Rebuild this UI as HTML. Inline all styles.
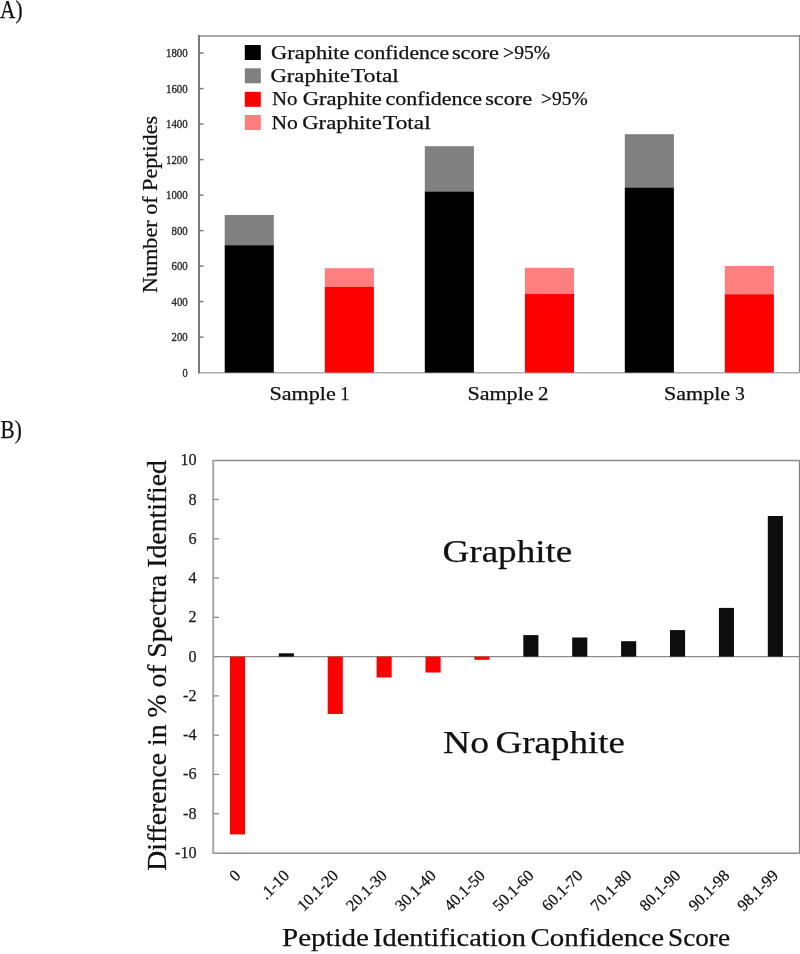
<!DOCTYPE html>
<html><head><meta charset="utf-8"><style>
html,body{margin:0;padding:0;background:#fff;}
svg{display:block;will-change:transform;}
text{font-family:"Liberation Serif",serif;fill:#111;white-space:pre;stroke:#111;stroke-width:0.25px;}
.ta{font-size:11.8px;fill:#2a2a2a;stroke:#2a2a2a;stroke-width:0.35px;}
.tb{font-size:17.2px;fill:#1a1a1a;stroke:#1a1a1a;stroke-width:0.25px;}
.tx{font-size:16.3px;fill:#111;}
.leg{font-size:19px;fill:#111;}
</style></head><body>
<svg width="800" height="954" viewBox="0 0 800 954">
<rect width="800" height="954" fill="#fff"/>
<text x="0" y="18.4" style="font-size:25.5px" textLength="22.5" lengthAdjust="spacingAndGlyphs">A)</text>
<text x="0.5" y="438.3" style="font-size:25.5px" textLength="21.3" lengthAdjust="spacingAndGlyphs">B)</text>
<line x1="199" y1="36" x2="799.5" y2="36" stroke="#a8a8a8" stroke-width="2"/>
<line x1="799.5" y1="35" x2="799.5" y2="373" stroke="#888" stroke-width="1.2"/>
<line x1="199" y1="372.8" x2="799.5" y2="372.8" stroke="#b0b0b0" stroke-width="1.5"/>
<rect x="224.7" y="215.0" width="49.1" height="30.2" fill="#808080"/><rect x="224.7" y="245.2" width="49.1" height="127.4" fill="#000000"/><rect x="324.8" y="268.2" width="49.1" height="18.6" fill="#ff7f7f"/><rect x="324.8" y="286.8" width="49.1" height="85.8" fill="#ff0000"/><rect x="424.8" y="146.2" width="49.1" height="45.3" fill="#808080"/><rect x="424.8" y="191.5" width="49.1" height="181.1" fill="#000000"/><rect x="524.9" y="267.8" width="49.1" height="26.0" fill="#ff7f7f"/><rect x="524.9" y="293.8" width="49.1" height="78.8" fill="#ff0000"/><rect x="624.8" y="134.2" width="49.1" height="53.3" fill="#808080"/><rect x="624.8" y="187.5" width="49.1" height="185.1" fill="#000000"/><rect x="724.8" y="266.0" width="49.1" height="28.2" fill="#ff7f7f"/><rect x="724.8" y="294.2" width="49.1" height="78.4" fill="#ff0000"/>
<line x1="199" y1="35" x2="199" y2="373.5" stroke="#7a7a7a" stroke-width="2"/>
<text x="182.5" y="376.6" class="ta" textLength="5.2" lengthAdjust="spacingAndGlyphs">0</text><line x1="199" y1="337.1" x2="203.5" y2="337.1" stroke="#7a7a7a" stroke-width="1.5"/><text x="171.5" y="341.1" class="ta" textLength="16.2" lengthAdjust="spacingAndGlyphs">200</text><line x1="199" y1="301.6" x2="203.5" y2="301.6" stroke="#7a7a7a" stroke-width="1.5"/><text x="171.5" y="305.6" class="ta" textLength="16.2" lengthAdjust="spacingAndGlyphs">400</text><line x1="199" y1="266.1" x2="203.5" y2="266.1" stroke="#7a7a7a" stroke-width="1.5"/><text x="171.5" y="270.1" class="ta" textLength="16.2" lengthAdjust="spacingAndGlyphs">600</text><line x1="199" y1="230.6" x2="203.5" y2="230.6" stroke="#7a7a7a" stroke-width="1.5"/><text x="171.5" y="234.6" class="ta" textLength="16.2" lengthAdjust="spacingAndGlyphs">800</text><line x1="199" y1="195.1" x2="203.5" y2="195.1" stroke="#7a7a7a" stroke-width="1.5"/><text x="166.0" y="199.1" class="ta" textLength="21.7" lengthAdjust="spacingAndGlyphs">1000</text><line x1="199" y1="159.6" x2="203.5" y2="159.6" stroke="#7a7a7a" stroke-width="1.5"/><text x="166.0" y="163.6" class="ta" textLength="21.7" lengthAdjust="spacingAndGlyphs">1200</text><line x1="199" y1="124.1" x2="203.5" y2="124.1" stroke="#7a7a7a" stroke-width="1.5"/><text x="166.0" y="128.1" class="ta" textLength="21.7" lengthAdjust="spacingAndGlyphs">1400</text><line x1="199" y1="88.6" x2="203.5" y2="88.6" stroke="#7a7a7a" stroke-width="1.5"/><text x="166.0" y="92.6" class="ta" textLength="21.7" lengthAdjust="spacingAndGlyphs">1600</text><line x1="199" y1="53.1" x2="203.5" y2="53.1" stroke="#7a7a7a" stroke-width="1.5"/><text x="166.0" y="57.1" class="ta" textLength="21.7" lengthAdjust="spacingAndGlyphs">1800</text>
<rect x="244.8" y="45" width="16" height="15" fill="#000"/>
<rect x="244.8" y="68.3" width="16" height="15" fill="#808080"/>
<rect x="244.8" y="91.8" width="16" height="15" fill="#ff0000"/>
<rect x="244.8" y="115" width="16" height="15" fill="#ff7f7f"/>
<text transform="translate(157.3,292.9) rotate(-90)" style="font-size:20.5px" textLength="177" lengthAdjust="spacingAndGlyphs">Number of Peptides</text>
<line x1="213" y1="460.5" x2="799.5" y2="460.5" stroke="#8a8a8a" stroke-width="1.5"/>
<line x1="799.5" y1="460" x2="799.5" y2="853.5" stroke="#808080" stroke-width="1.2"/>
<line x1="213" y1="853.3" x2="799.5" y2="853.3" stroke="#909090" stroke-width="1.5"/>
<line x1="213" y1="656.6" x2="799.5" y2="656.6" stroke="#8a8a8a" stroke-width="1.3"/>
<rect x="229.9" y="656.6" width="15.1" height="177.8" fill="#ff0000"/><rect x="278.8" y="653.3" width="15.1" height="3.3" fill="#0d0d0d"/><rect x="327.7" y="656.6" width="15.1" height="57.4" fill="#ff0000"/><rect x="376.6" y="656.6" width="15.1" height="20.9" fill="#ff0000"/><rect x="425.5" y="656.6" width="15.1" height="15.9" fill="#ff0000"/><rect x="474.4" y="656.6" width="15.1" height="3.2" fill="#ff0000"/><rect x="523.3" y="635.1" width="15.1" height="21.5" fill="#0d0d0d"/><rect x="572.2" y="637.5" width="15.1" height="19.1" fill="#0d0d0d"/><rect x="621.1" y="641.2" width="15.1" height="15.4" fill="#0d0d0d"/><rect x="670.0" y="630.1" width="15.1" height="26.5" fill="#0d0d0d"/><rect x="718.9" y="607.9" width="15.1" height="48.7" fill="#0d0d0d"/><rect x="767.8" y="516.0" width="15.1" height="140.6" fill="#0d0d0d"/>
<line x1="213.2" y1="460" x2="213.2" y2="854" stroke="#a8a8a8" stroke-width="2"/>
<text x="175.0" y="858.0" class="tb" textLength="21.6" lengthAdjust="spacingAndGlyphs">-10</text><line x1="213.5" y1="813.7" x2="219" y2="813.7" stroke="#8a8a8a" stroke-width="1.3"/><text x="183.1" y="818.7" class="tb" textLength="13.5" lengthAdjust="spacingAndGlyphs">-8</text><line x1="213.5" y1="774.4" x2="219" y2="774.4" stroke="#8a8a8a" stroke-width="1.3"/><text x="183.1" y="779.4" class="tb" textLength="13.5" lengthAdjust="spacingAndGlyphs">-6</text><line x1="213.5" y1="735.2" x2="219" y2="735.2" stroke="#8a8a8a" stroke-width="1.3"/><text x="183.1" y="740.2" class="tb" textLength="13.5" lengthAdjust="spacingAndGlyphs">-4</text><line x1="213.5" y1="695.9" x2="219" y2="695.9" stroke="#8a8a8a" stroke-width="1.3"/><text x="183.1" y="700.9" class="tb" textLength="13.5" lengthAdjust="spacingAndGlyphs">-2</text><line x1="213.5" y1="656.6" x2="219" y2="656.6" stroke="#8a8a8a" stroke-width="1.3"/><text x="188.5" y="661.6" class="tb" textLength="8.1" lengthAdjust="spacingAndGlyphs">0</text><line x1="213.5" y1="617.3" x2="219" y2="617.3" stroke="#8a8a8a" stroke-width="1.3"/><text x="188.5" y="622.3" class="tb" textLength="8.1" lengthAdjust="spacingAndGlyphs">2</text><line x1="213.5" y1="578.0" x2="219" y2="578.0" stroke="#8a8a8a" stroke-width="1.3"/><text x="188.5" y="583.0" class="tb" textLength="8.1" lengthAdjust="spacingAndGlyphs">4</text><line x1="213.5" y1="538.8" x2="219" y2="538.8" stroke="#8a8a8a" stroke-width="1.3"/><text x="188.5" y="543.8" class="tb" textLength="8.1" lengthAdjust="spacingAndGlyphs">6</text><line x1="213.5" y1="499.5" x2="219" y2="499.5" stroke="#8a8a8a" stroke-width="1.3"/><text x="188.5" y="504.5" class="tb" textLength="8.1" lengthAdjust="spacingAndGlyphs">8</text><text x="180.4" y="465.2" class="tb" textLength="16.2" lengthAdjust="spacingAndGlyphs">10</text>
<text class="tx" text-anchor="end" transform="translate(241.4,876.5) rotate(-45)">0</text><text class="tx" text-anchor="end" transform="translate(290.3,876.5) rotate(-45)">.1-10</text><text class="tx" text-anchor="end" transform="translate(339.2,876.5) rotate(-45)">10.1-20</text><text class="tx" text-anchor="end" transform="translate(388.1,876.5) rotate(-45)">20.1-30</text><text class="tx" text-anchor="end" transform="translate(437.0,876.5) rotate(-45)">30.1-40</text><text class="tx" text-anchor="end" transform="translate(485.9,876.5) rotate(-45)">40.1-50</text><text class="tx" text-anchor="end" transform="translate(534.8,876.5) rotate(-45)">50.1-60</text><text class="tx" text-anchor="end" transform="translate(583.7,876.5) rotate(-45)">60.1-70</text><text class="tx" text-anchor="end" transform="translate(632.6,876.5) rotate(-45)">70.1-80</text><text class="tx" text-anchor="end" transform="translate(681.5,876.5) rotate(-45)">80.1-90</text><text class="tx" text-anchor="end" transform="translate(730.4,876.5) rotate(-45)">90.1-98</text><text class="tx" text-anchor="end" transform="translate(779.3,876.5) rotate(-45)">98.1-99</text>
<text transform="translate(166.3,870.8) rotate(-90)" style="font-size:27px" textLength="410.7" lengthAdjust="spacingAndGlyphs">Difference in % of Spectra Identified</text>
<text x="271.10" y="58.7" style="font-size:19px" textLength="78.40" lengthAdjust="spacingAndGlyphs">Graphite</text>
<text x="354.10" y="58.7" style="font-size:19px" textLength="95.00" lengthAdjust="spacingAndGlyphs">confidence</text>
<text x="451.90" y="58.7" style="font-size:19px" textLength="47.00" lengthAdjust="spacingAndGlyphs">score</text>
<text x="503.10" y="58.7" style="font-size:19px" textLength="46.90" lengthAdjust="spacingAndGlyphs">&gt;95%</text>
<text x="270.40" y="82.0" style="font-size:19px" textLength="79.50" lengthAdjust="spacingAndGlyphs">Graphite</text>
<text x="351.10" y="82.0" style="font-size:19px" textLength="47.70" lengthAdjust="spacingAndGlyphs">Total</text>
<text x="271.90" y="105.4" style="font-size:19px" textLength="25.50" lengthAdjust="spacingAndGlyphs">No</text>
<text x="302.70" y="105.4" style="font-size:19px" textLength="79.20" lengthAdjust="spacingAndGlyphs">Graphite</text>
<text x="385.60" y="105.4" style="font-size:19px" textLength="96.50" lengthAdjust="spacingAndGlyphs">confidence</text>
<text x="485.20" y="105.4" style="font-size:19px" textLength="46.90" lengthAdjust="spacingAndGlyphs">score</text>
<text x="541.10" y="105.4" style="font-size:19px" textLength="46.60" lengthAdjust="spacingAndGlyphs">&gt;95%</text>
<text x="271.40" y="128.7" style="font-size:19px" textLength="26.50" lengthAdjust="spacingAndGlyphs">No</text>
<text x="302.20" y="128.7" style="font-size:19px" textLength="79.60" lengthAdjust="spacingAndGlyphs">Graphite</text>
<text x="383.00" y="128.7" style="font-size:19px" textLength="47.70" lengthAdjust="spacingAndGlyphs">Total</text>
<text x="269.40" y="400.0" style="font-size:19.3px" textLength="66.40" lengthAdjust="spacingAndGlyphs">Sample</text>
<text x="340.60" y="400.0" style="font-size:19.3px" textLength="8.90" lengthAdjust="spacingAndGlyphs">1</text>
<text x="467.40" y="400.0" style="font-size:19.3px" textLength="66.20" lengthAdjust="spacingAndGlyphs">Sample</text>
<text x="538.00" y="400.0" style="font-size:19.3px" textLength="10.50" lengthAdjust="spacingAndGlyphs">2</text>
<text x="664.10" y="400.0" style="font-size:19.3px" textLength="65.90" lengthAdjust="spacingAndGlyphs">Sample</text>
<text x="735.10" y="400.0" style="font-size:19.3px" textLength="9.80" lengthAdjust="spacingAndGlyphs">3</text>
<text x="443.00" y="753.4" style="font-size:32.5px" textLength="46.00" lengthAdjust="spacingAndGlyphs">No</text>
<text x="495.50" y="753.4" style="font-size:32.5px" textLength="129.50" lengthAdjust="spacingAndGlyphs">Graphite</text>
<text x="442.50" y="561.7" style="font-size:32.5px" textLength="129.80" lengthAdjust="spacingAndGlyphs">Graphite</text>
<text x="282.00" y="946" style="font-size:25px" textLength="87.00" lengthAdjust="spacingAndGlyphs">Peptide</text>
<text x="373.00" y="946" style="font-size:25px" textLength="153.00" lengthAdjust="spacingAndGlyphs">Identification</text>
<text x="530.50" y="946" style="font-size:25px" textLength="133.50" lengthAdjust="spacingAndGlyphs">Confidence</text>
<text x="668.00" y="946" style="font-size:25px" textLength="62.00" lengthAdjust="spacingAndGlyphs">Score</text>
</svg>
</body></html>
